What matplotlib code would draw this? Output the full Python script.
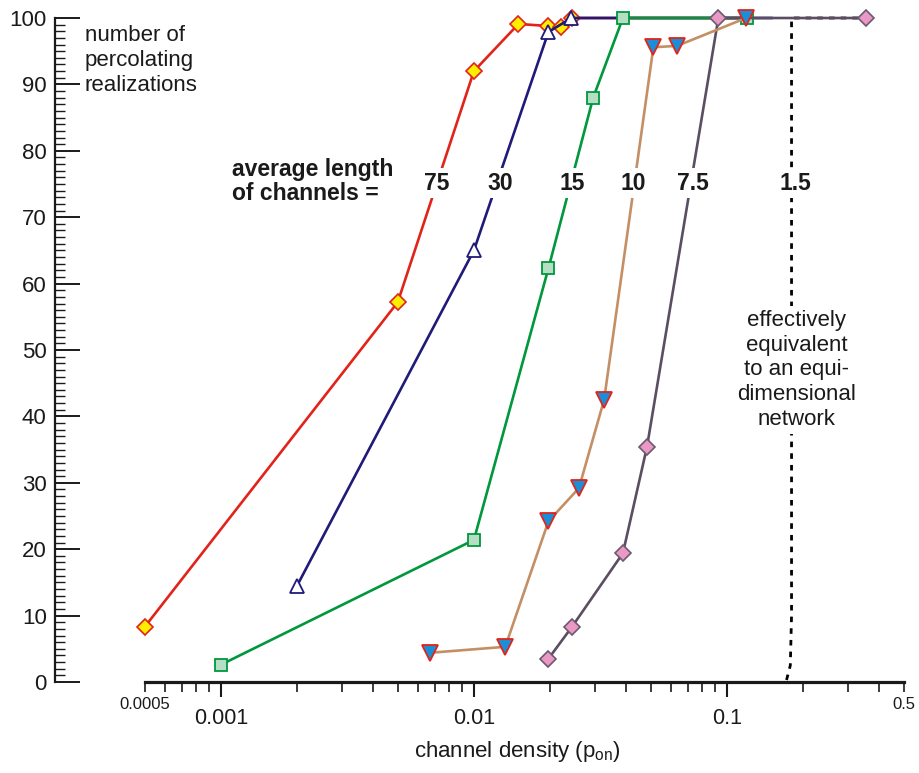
import matplotlib
matplotlib.use("Agg")
import matplotlib.pyplot as plt
from matplotlib.ticker import FixedLocator, FuncFormatter, MultipleLocator
import numpy as np

plt.rcParams['font.family'] = ['Liberation Sans', 'DejaVu Sans']

# channel density (p_on) vs. number of percolating realizations, per average channel length
x75 = [0.0005, 0.005, 0.01, 0.015, 0.0196, 0.022, 0.0245, 0.12]
y75 = [8.3, 57.2, 92.0, 99.1, 98.8, 98.6, 100.0, 100.0]

x30 = [0.002, 0.01, 0.0197, 0.0243, 0.15]
y30 = [14.5, 65.0, 97.9, 100.0, 100.0]

x15 = [0.001, 0.01, 0.0197, 0.0296, 0.0388, 0.12]
y15 = [2.6, 21.4, 62.3, 88.0, 100.0, 100.0]

x10 = [0.0067, 0.0133, 0.0197, 0.026, 0.0327, 0.0512, 0.0635, 0.119]
y10 = [4.4, 5.3, 24.2, 29.2, 42.5, 95.6, 95.8, 100.0]

x7_5 = [0.0197, 0.0244, 0.0388, 0.0483, 0.0925, 0.354]
y7_5 = [3.5, 8.3, 19.4, 35.4, 100.0, 100.0]

x1_5 = [0.172, 0.178, 0.18, 0.18, 0.33]
y1_5 = [0.3, 2.5, 10.0, 100.0, 100.0]

length_labels = ['75', '30', '15', '10', '7.5', '1.5']
label_x = [0.0071, 0.0127, 0.0244, 0.0425, 0.0734, 0.186]

fig = plt.figure(figsize=(9.2, 7.73), dpi=100)
ax = fig.add_axes([55 / 920, 1 - 682 / 773, 855 / 920, 664 / 773])
ax.set_xscale('log')
ax.set_xlim(0.000221, 0.529)
ax.set_ylim(0, 100)

# 1.5 : dotted step
ax.plot(x1_5, y1_5, color='black', lw=2.0, dashes=(2, 2.2), zorder=2, clip_on=False)

ax.plot(x75, y75, color='#e2231a', lw=1.9, marker='D', ms=8.5, mfc='#ffee00',
        mec='#e2231a', mew=1.2, markevery=slice(0, len(x75) - 1), zorder=3, clip_on=False)
ax.plot(x30, y30, color='#201a78', lw=1.9, marker='^', ms=10, mfc='white',
        mec='#201a78', mew=1.3, markevery=slice(0, len(x30) - 1), zorder=3, clip_on=False)
ax.plot(x15, y15, color='#00973d', lw=1.9, marker='s', ms=8, mfc='#b5dec4',
        mec='#00973d', mew=1.3, zorder=4, clip_on=False)
ax.plot(x7_5, y7_5, color='#5b4e62', lw=1.9, marker='D', ms=8.5, mfc='#ea98c4',
        mec='#6b5a70', mew=1.2, zorder=5, clip_on=False)
ax.plot(x10, y10, color='#c48f64', lw=1.9, marker='v', ms=11.5, mfc='#1a8fd8',
        mec='#e2231a', mew=1.3, zorder=6, clip_on=False)

# annotations
ax.text(0.00111, 75.4, 'average length\nof channels =', fontsize=16.5, fontweight='bold',
        ha='left', va='center', linespacing=1.05, color='#1a1a1a', zorder=10)
for lab, lx in zip(length_labels, label_x):
    ax.text(lx, 75.1, lab, fontsize=16.5, fontweight='bold', ha='center', va='center',
            color='#1a1a1a', zorder=10,
            bbox=dict(facecolor='white', edgecolor='none', pad=2.5))
ax.text(0.189, 47.0, 'effectively\nequivalent\nto an equi-\ndimensional\nnetwork',
        fontsize=16, ha='center', va='center', linespacing=1.24, color='#1a1a1a',
        zorder=10, bbox=dict(facecolor='white', edgecolor='none', pad=3))
ax.text(0.00029, 99.0, 'number of\npercolating\nrealizations', fontsize=16,
        ha='left', va='top', linespacing=1.27, color='#1a1a1a', zorder=10, clip_on=False)

# spines
for s in ['top', 'right']:
    ax.spines[s].set_visible(False)
ax.spines['left'].set_linewidth(1.6)
ax.spines['left'].set_color('#1a1a1a')
ax.spines['left'].set_bounds(0, 100)
ax.spines['bottom'].set_linewidth(2.3)
ax.spines['bottom'].set_color('#1a1a1a')
ax.spines['bottom'].set_bounds(0.0005, 0.5)

# y axis ruler
ax.yaxis.set_major_locator(MultipleLocator(10))
ax.yaxis.set_minor_locator(MultipleLocator(1))
ax.tick_params(axis='y', which='major', direction='in', length=18, width=1.4,
               labelsize=16, pad=6, colors='#1a1a1a')
ax.tick_params(axis='y', which='minor', direction='in', length=7, width=1.0,
               colors='#1a1a1a')

# x axis log ticks
ax.xaxis.set_major_locator(FixedLocator([0.001, 0.01, 0.1]))
ax.xaxis.set_major_formatter(FuncFormatter(lambda v, p: f'{v:g}'))
minor = [m * 10.0 ** e for e in range(-4, 0) for m in range(1, 10)]
minor = [v for v in minor if 0.00049 < v < 0.51 and v not in (0.001, 0.01, 0.1)]
ax.xaxis.set_minor_locator(FixedLocator(minor))
ax.xaxis.set_minor_formatter(FuncFormatter(
    lambda v, p: ('0.0005' if abs(v - 0.0005) < 1e-9 else '0.5' if abs(v - 0.5) < 1e-9 else '')))
ax.tick_params(axis='x', which='major', direction='out', length=11, width=1.5,
               labelsize=15.5, pad=8, colors='#1a1a1a')
ax.tick_params(axis='x', which='minor', direction='out', length=7, width=1.2,
               labelsize=12, pad=4, colors='#1a1a1a')

fig.text(517 / 920, 1 - 752 / 773, 'channel density (p$_{\\mathregular{on}}$)', fontsize=16,
         ha='center', va='center', color='#1a1a1a')

fig.savefig('out.png', dpi=100, facecolor='white')
